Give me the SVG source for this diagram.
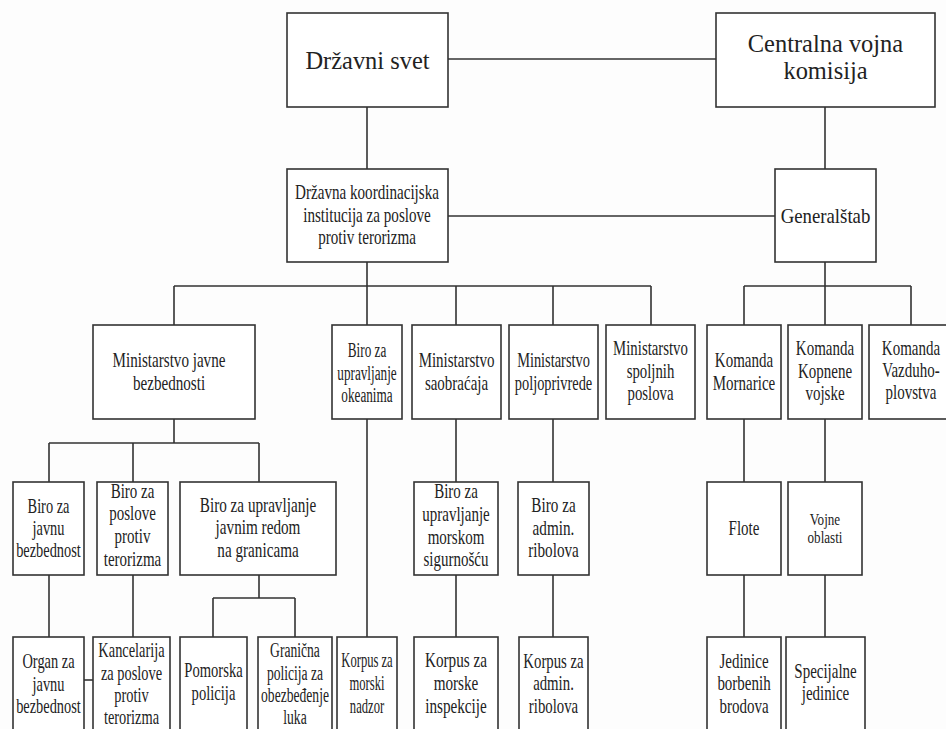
<svg xmlns="http://www.w3.org/2000/svg" width="946" height="729" viewBox="0 0 946 729">
<style>
.bg{fill:#fdfdfd}
.box{fill:#ffffff;stroke:#333;stroke-width:1.6}
.ln{fill:none;stroke:#333;stroke-width:1.6}
.t{font-family:"Liberation Serif","Times New Roman",serif;font-size:20px;fill:#222;text-anchor:middle}
.big{font-size:26px}
.sm{font-size:17px}
</style>
<rect class="bg" x="0" y="0" width="946" height="729"/>
<g id="connectors">
<path class="ln" d="M448 59H716"/>
<path class="ln" d="M367 107V169"/>
<path class="ln" d="M825 107V169"/>
<path class="ln" d="M448 216H775"/>
<path class="ln" d="M367 262V286M174 286H651M174 286V325M367 286V325M456 286V325M553 286V325M651 286V325"/>
<path class="ln" d="M825 262V286M744 286H911M744 286V325M825 286V325M911 286V325"/>
<path class="ln" d="M174 419V443M49 443H259M49 443V482M133 443V482M259 443V482"/>
<path class="ln" d="M367 419V637"/>
<path class="ln" d="M456 419V482M456 575V637"/>
<path class="ln" d="M553 419V482M553 575V637"/>
<path class="ln" d="M744 419V482M744 575V637"/>
<path class="ln" d="M825 419V482M825 575V637"/>
<path class="ln" d="M49 575V637"/>
<path class="ln" d="M133 575V637"/>
<path class="ln" d="M259 575V598M213 598H295M213 598V637M295 598V637"/>
<path class="ln" d="M84 680H93"/>
</g>
<g id="drzavni-svet"><rect class="box" x="287" y="13" width="161" height="94"/>
<text class="t big" transform="translate(367.5 0) scale(0.94 1)"><tspan x="0" y="69">Državni svet</tspan></text></g>
<g id="centralna"><rect class="box" x="716" y="13" width="219" height="94"/>
<text class="t big" transform="translate(825.5 0) scale(0.94 1)"><tspan x="0" y="52">Centralna vojna</tspan><tspan x="0" y="79">komisija</tspan></text></g>
<g id="koordinacijska"><rect class="box" x="287" y="169" width="161" height="93"/>
<text class="t" style="font-size:21px" transform="translate(367 0) scale(0.72 1)"><tspan x="0" y="199">Državna koordinacijska</tspan><tspan x="0" y="222">institucija za poslove</tspan><tspan x="0" y="244">protiv terorizma</tspan></text></g>
<g id="generalstab"><rect class="box" x="775" y="169" width="101" height="93"/>
<text class="t" transform="translate(825.5 0) scale(0.94 1)"><tspan x="0" y="223">Generalštab</tspan></text></g>
<g id="mup"><rect class="box" x="93" y="325" width="162" height="94"/>
<text class="t" style="font-size:21px" transform="translate(169 0) scale(0.72 1)"><tspan x="0" y="367">Ministarstvo javne</tspan><tspan x="0" y="390">bezbednosti</tspan></text></g>
<g id="okeani"><rect class="box" x="332" y="325" width="70" height="94"/>
<text class="t" transform="translate(367 0) scale(0.66 1)"><tspan x="0" y="357">Biro za</tspan><tspan x="0" y="380">upravljanje</tspan><tspan x="0" y="402">okeanima</tspan></text></g>
<g id="saobracaj"><rect class="box" x="412" y="325" width="89" height="94"/>
<text class="t" transform="translate(456.5 0) scale(0.75 1)"><tspan x="0" y="367">Ministarstvo</tspan><tspan x="0" y="390">saobraćaja</tspan></text></g>
<g id="poljoprivreda"><rect class="box" x="509" y="325" width="89" height="94"/>
<text class="t" transform="translate(553.5 0) scale(0.72 1)"><tspan x="0" y="367">Ministarstvo</tspan><tspan x="0" y="390">poljoprivrede</tspan></text></g>
<g id="spoljni"><rect class="box" x="606" y="325" width="89" height="94"/>
<text class="t" transform="translate(650.5 0) scale(0.74 1)"><tspan x="0" y="355">Ministarstvo</tspan><tspan x="0" y="378">spoljnih</tspan><tspan x="0" y="400">poslova</tspan></text></g>
<g id="mornarica"><rect class="box" x="707" y="325" width="74" height="94"/>
<text class="t" transform="translate(744 0) scale(0.75 1)"><tspan x="0" y="367">Komanda</tspan><tspan x="0" y="390">Mornarice</tspan></text></g>
<g id="kopnena"><rect class="box" x="788" y="325" width="74" height="94"/>
<text class="t" transform="translate(825 0) scale(0.75 1)"><tspan x="0" y="355">Komanda</tspan><tspan x="0" y="378">Kopnene</tspan><tspan x="0" y="400">vojske</tspan></text></g>
<g id="vazduhoplovstvo"><rect class="box" x="869" y="325" width="84" height="94"/>
<text class="t" transform="translate(911 0) scale(0.75 1)"><tspan x="0" y="355">Komanda</tspan><tspan x="0" y="377">Vazduho-</tspan><tspan x="0" y="399">plovstva</tspan></text></g>
<g id="biro-javna"><rect class="box" x="13" y="482" width="71" height="93"/>
<text class="t" transform="translate(48.5 0) scale(0.72 1)"><tspan x="0" y="513">Biro za</tspan><tspan x="0" y="535">javnu</tspan><tspan x="0" y="557">bezbednost</tspan></text></g>
<g id="biro-teror"><rect class="box" x="97" y="482" width="71" height="93"/>
<text class="t" transform="translate(132.5 0) scale(0.75 1)"><tspan x="0" y="498">Biro za</tspan><tspan x="0" y="520">poslove</tspan><tspan x="0" y="543">protiv</tspan><tspan x="0" y="566">terorizma</tspan></text></g>
<g id="biro-granice"><rect class="box" x="180" y="482" width="156" height="93"/>
<text class="t" transform="translate(258 0) scale(0.76 1)"><tspan x="0" y="512">Biro za upravljanje</tspan><tspan x="0" y="534">javnim redom</tspan><tspan x="0" y="557">na granicama</tspan></text></g>
<g id="biro-morska"><rect class="box" x="414" y="482" width="84" height="93"/>
<text class="t" transform="translate(456 0) scale(0.75 1)"><tspan x="0" y="498">Biro za</tspan><tspan x="0" y="521">upravljanje</tspan><tspan x="0" y="544">morskom</tspan><tspan x="0" y="566">sigurnošću</tspan></text></g>
<g id="biro-ribolov"><rect class="box" x="518" y="482" width="71" height="93"/>
<text class="t" transform="translate(553.5 0) scale(0.76 1)"><tspan x="0" y="512">Biro za</tspan><tspan x="0" y="535">admin.</tspan><tspan x="0" y="557">ribolova</tspan></text></g>
<g id="flote"><rect class="box" x="707" y="482" width="74" height="93"/>
<text class="t" transform="translate(744 0) scale(0.75 1)"><tspan x="0" y="535">Flote</tspan></text></g>
<g id="vojne-oblasti"><rect class="box" x="788" y="482" width="74" height="93"/>
<text class="t sm" transform="translate(825 0) scale(0.77 1)"><tspan x="0" y="525">Vojne</tspan><tspan x="0" y="543">oblasti</tspan></text></g>
<g id="organ"><rect class="box" x="13" y="637" width="71" height="100"/>
<text class="t" transform="translate(48.5 0) scale(0.72 1)"><tspan x="0" y="668">Organ za</tspan><tspan x="0" y="691">javnu</tspan><tspan x="0" y="713">bezbednost</tspan></text></g>
<g id="kancelarija"><rect class="box" x="93" y="637" width="77" height="100"/>
<text class="t" transform="translate(131.5 0) scale(0.72 1)"><tspan x="0" y="657">Kancelarija</tspan><tspan x="0" y="680">za poslove</tspan><tspan x="0" y="702">protiv</tspan><tspan x="0" y="724">terorizma</tspan></text></g>
<g id="pomorska"><rect class="box" x="180" y="637" width="67" height="100"/>
<text class="t" transform="translate(213.5 0) scale(0.73 1)"><tspan x="0" y="677">Pomorska</tspan><tspan x="0" y="700">policija</tspan></text></g>
<g id="granicna"><rect class="box" x="258" y="637" width="74" height="100"/>
<text class="t" transform="translate(295 0) scale(0.68 1)"><tspan x="0" y="657">Granična</tspan><tspan x="0" y="680">policija za</tspan><tspan x="0" y="702">obezbeđenje</tspan><tspan x="0" y="724">luka</tspan></text></g>
<g id="korpus-nadzor"><rect class="box" x="337" y="637" width="60" height="100"/>
<text class="t" transform="translate(367 0) scale(0.63 1)"><tspan x="0" y="667">Korpus za</tspan><tspan x="0" y="690">morski</tspan><tspan x="0" y="713">nadzor</tspan></text></g>
<g id="korpus-inspekcije"><rect class="box" x="414" y="637" width="84" height="100"/>
<text class="t" transform="translate(456 0) scale(0.76 1)"><tspan x="0" y="667">Korpus za</tspan><tspan x="0" y="690">morske</tspan><tspan x="0" y="713">inspekcije</tspan></text></g>
<g id="korpus-ribolov"><rect class="box" x="519" y="637" width="69" height="100"/>
<text class="t" transform="translate(553.5 0) scale(0.74 1)"><tspan x="0" y="668">Korpus za</tspan><tspan x="0" y="690">admin.</tspan><tspan x="0" y="713">ribolova</tspan></text></g>
<g id="jedinice"><rect class="box" x="707" y="637" width="74" height="100"/>
<text class="t" transform="translate(744 0) scale(0.75 1)"><tspan x="0" y="668">Jedinice</tspan><tspan x="0" y="690">borbenih</tspan><tspan x="0" y="713">brodova</tspan></text></g>
<g id="specijalne"><rect class="box" x="786" y="637" width="79" height="100"/>
<text class="t" transform="translate(825.5 0) scale(0.75 1)"><tspan x="0" y="678">Specijalne</tspan><tspan x="0" y="700">jedinice</tspan></text></g>
</svg>
